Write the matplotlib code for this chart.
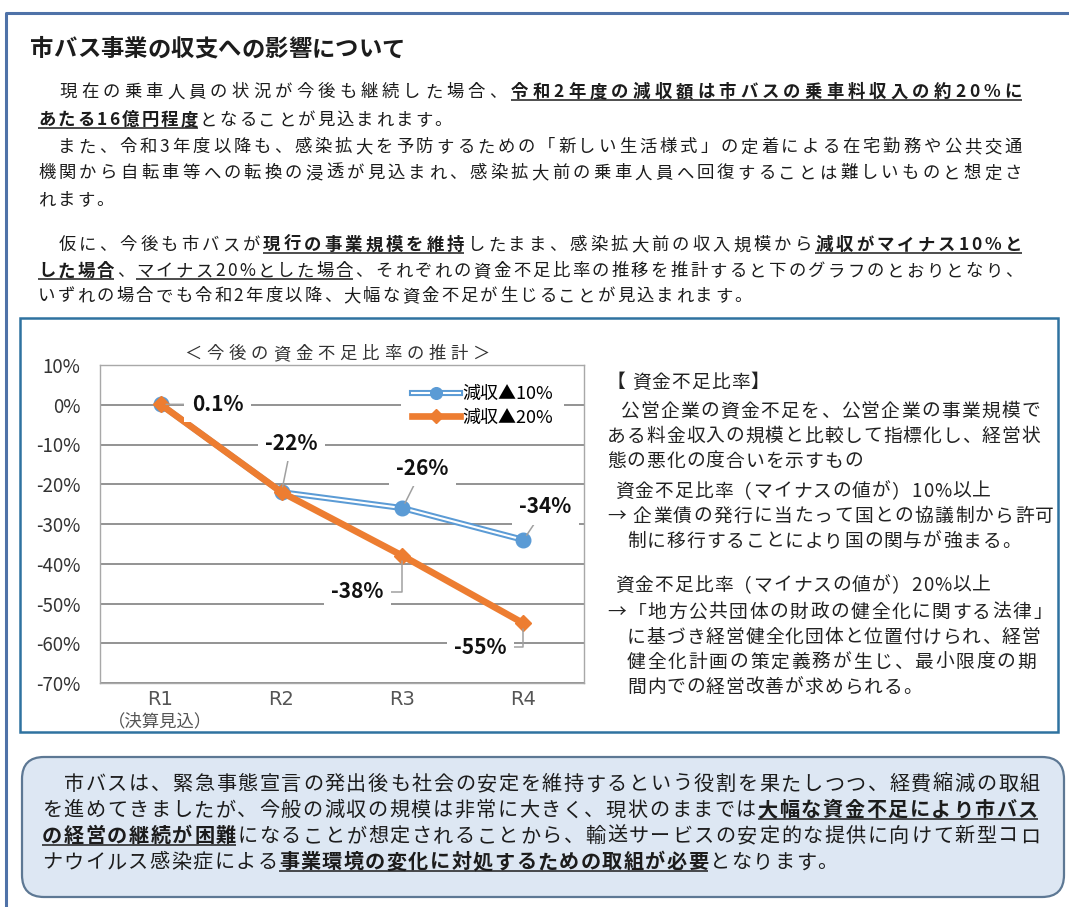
import matplotlib
matplotlib.use("Agg")
import numpy as np
import matplotlib.pyplot as plt
from matplotlib.patches import Rectangle, FancyBboxPatch
from matplotlib.legend_handler import HandlerTuple
from matplotlib.ticker import FuncFormatter
from matplotlib.font_manager import FontProperties, findfont, get_font
from matplotlib import ft2font

# ---------------- data ----------------
categories = ["R1", "R2", "R3", "R4"]
first_note = "（決算見込）"
series_names = ["減収▲10%", "減収▲20%"]
ratio_minus10 = [0.001, -0.22, -0.26, -0.34]
ratio_minus20 = [0.001, -0.22, -0.38, -0.55]
y_ticks = [0.1, 0.0, -0.1, -0.2, -0.3, -0.4, -0.5, -0.6, -0.7]
chart_title = "＜今後の資金不足比率の推計＞"
page_title = "市バス事業の収支への影響について"

# ---------------- look ----------------
FAM = ["Noto Sans CJK JP", "DejaVu Sans"]
plt.rcParams["font.family"] = FAM
plt.rcParams["axes.unicode_minus"] = False

BLUE = "#5b9bd5"
ORANGE = "#ed7d31"
INK = "#1c1c1c"

W, H = 1069, 907
fig = plt.figure(figsize=(W / 100, H / 100), dpi=100)
fig.patch.set_facecolor("white")

# page canvas in pixel units (y grows downward)
page = fig.add_axes([0, 0, 1, 1])
page.set_xlim(0, W)
page.set_ylim(H, 0)
page.axis("off")

try:
    NOHINT = ft2font.LoadFlags.NO_HINTING
except AttributeError:
    NOHINT = ft2font.LOAD_NO_HINTING

_font_paths = {}


def advance(ch, size, weight):
    if weight not in _font_paths:
        _font_paths[weight] = findfont(FontProperties(family="Noto Sans CJK JP",
                                                      weight=weight))
    font = get_font(_font_paths[weight])
    font.set_size(size, 100)
    g = font.load_char(ord(ch), flags=NOHINT)
    return g.linearHoriAdvance / 65536.0


STYLES = {"n": ("normal", False), "b": ("bold", False),
          "u": ("normal", True), "bu": ("bold", True)}


def draw_line(x0, yc, segs, size, x1=None, track=0.0, color=INK):
    """Draw one line of mixed-style text; spread it to x1 when given."""
    chars = []
    for txt, st in segs:
        weight, under = STYLES[st]
        for ch in txt:
            chars.append((ch, weight, under))
    advs = [advance(ch, size, w) for ch, w, _ in chars]
    n = len(chars)
    gap = (x1 - x0 - sum(advs)) / (n - 1) if (x1 is not None and n > 1) else track
    px = size * 100 / 72
    base = yc + 0.36 * px
    x = x0
    run = None
    runs = []
    for (ch, weight, under), adv in zip(chars, advs):
        if not ch.isspace():
            page.text(x, base, ch, fontsize=size, fontweight=weight,
                      color=color, ha="left", va="baseline", family=FAM)
        if under:
            if run is None:
                run = [x, x + adv]
            else:
                run[1] = x + adv
        elif run is not None:
            runs.append(run)
            run = None
        x += adv + gap
    if run is not None:
        runs.append(run)
    for a, b in runs:
        page.plot([a, b], [base + 0.13 * px] * 2, color=color, lw=1.1,
                  solid_capstyle="butt")


# ---------------- page frame ----------------
page.plot([6, 6, W], [H, 13, 13], color="#4f72a8", lw=2.2, solid_capstyle="butt")

# title
draw_line(30, 48, [(page_title, "b")], 16.8, x1=405)

# introductory paragraph
BODY = 12.5
body_lines = [
    (91, [("　現在の乗車人員の状況が今後も継続した場合、", "n"),
          ("令和2年度の減収額は市バスの乗車料収入の約20%に", "bu")], True),
    (119, [("あたる16億円程度", "bu"), ("となることが見込まれます。", "n")], False),
    (146, [("　また、令和3年度以降も、感染拡大を予防するための「新しい生活様式」の定着による在宅勤務や公共交通", "n")], True),
    (172, [("機関から自転車等への転換の浸透が見込まれ、感染拡大前の乗車人員へ回復することは難しいものと想定さ", "n")], True),
    (199, [("れます。", "n")], False),
    (244, [("　仮に、今後も市バスが", "n"), ("現行の事業規模を維持", "bu"),
           ("したまま、感染拡大前の収入規模から", "n"), ("減収がマイナス10%と", "bu")], True),
    (270, [("した場合", "bu"), ("、", "n"), ("マイナス20%とした場合", "u"),
           ("、それぞれの資金不足比率の推移を推計すると下のグラフのとおりとなり、", "n")], True),
    (295, [("いずれの場合でも令和2年度以降、大幅な資金不足が生じることが見込まれます。", "n")], False),
]
for y, segs, just in body_lines:
    draw_line(38, y, segs, BODY, x1=1022 if just else None, track=2.2)

# chart panel frame
page.add_patch(Rectangle((20, 318), 1038, 414, fill=False, ec="#2f72a0", lw=1.8))

# chart heading
draw_line(184, 353, [(chart_title, "n")], 12.5, x1=490, color="#333333")

# explanation beside the chart
SIDE = 13.5
side_lines = [
    (607, 381, "【 資金不足比率】", None),
    (620, 410, "公営企業の資金不足を、公営企業の事業規模で", 1040),
    (607, 435, "ある料金収入の規模と比較して指標化し、経営状", 1040),
    (607, 460, "態の悪化の度合いを示すもの", None),
    (615, 490, "資金不足比率（マイナスの値が）10%以上", None),
    (607, 515, "→ 企業債の発行に当たって国との協議制から許可", 1054),
    (627, 540, "制に移行することにより国の関与が強まる。", None),
    (615, 584, "資金不足比率（マイナスの値が）20%以上", None),
    (607, 611, "→「地方公共団体の財政の健全化に関する法律」", 1052),
    (627, 636, "に基づき経営健全化団体と位置付けられ、経営", 1040),
    (627, 661, "健全化計画の策定義務が生じ、最小限度の期", 1036),
    (627, 686, "間内での経営改善が求められる。", None),
]
for x0, y, txt, x1 in side_lines:
    draw_line(x0, y, [(txt, "n")], SIDE, x1=x1, track=1.0, color="#222222")

# closing note box
page.add_patch(FancyBboxPatch((22, 757), 1042, 140,
                              boxstyle="round,pad=0,rounding_size=22",
                              fc="#dde7f3", ec="#5d7894", lw=1.6))
NOTE = 14.5
note_lines = [
    (783, [("　市バスは、緊急事態宣言の発出後も社会の安定を維持するという役割を果たしつつ、経費縮減の取組", "n")], 1040),
    (809, [("を進めてきましたが、今般の減収の規模は非常に大きく、現状のままでは", "n"),
           ("大幅な資金不足により市バス", "bu")], 1038),
    (835, [("の経営の継続が困難", "bu"),
           ("になることが想定されることから、輸送サービスの安定的な提供に向けて新型コロ", "n")], 1040),
    (861, [("ナウイルス感染症による", "n"), ("事業環境の変化に対処するための取組が必要", "bu"),
           ("となります。", "n")], None),
]
for y, segs, x1 in note_lines:
    draw_line(42, y, segs, NOTE, x1=x1, track=1.4)

# ---------------- line chart ----------------
ax = fig.add_axes([100 / W, (H - 683) / H, 484 / W, 318 / H])
ax.set_facecolor("white")
x = np.arange(len(categories))

ax.set_xlim(-0.5, len(categories) - 0.5)
ax.set_ylim(min(y_ticks), max(y_ticks))
ax.set_yticks(y_ticks)
ax.yaxis.set_major_formatter(FuncFormatter(lambda v, _: f"{int(round(v * 100))}%"))
ax.set_xticks(x)
ax.set_xticklabels(categories, family="DejaVu Sans", fontsize=14, color="#555555")
ax.tick_params(axis="x", length=0, pad=5)
ax.tick_params(axis="y", length=0, pad=14, labelsize=13.5, labelcolor="#333333")
ax.yaxis.grid(True, color="#8a8a8a", lw=1.3)
ax.set_axisbelow(True)
for sp in ax.spines.values():
    sp.set_color("#a8a8a8")
    sp.set_linewidth(1.0)

ax.text(0, -0.12, first_note, transform=ax.get_xaxis_transform(),
        ha="center", va="center", fontsize=12.5, color="#555555")

# 10% scenario: double-stroke blue line with round markers
b_outer, = ax.plot(x, ratio_minus10, color=BLUE, lw=4.4, zorder=3)
b_inner, = ax.plot(x, ratio_minus10, color="white", lw=1.5, zorder=3.1)
b_mark, = ax.plot(x, ratio_minus10, ls="none", marker="o", ms=10.5,
                  color=BLUE, zorder=3.2)
# 20% scenario: solid orange line with diamonds
o_line, = ax.plot(x, ratio_minus20, color=ORANGE, lw=4.8, marker="D", ms=8.5,
                  zorder=4)

ax.legend([(b_outer, b_inner, b_mark), o_line], series_names,
          handler_map={tuple: HandlerTuple(ndivide=1)},
          loc="center", bbox_to_anchor=(0.79, 0.871), fontsize=13,
          handlelength=2.7, handletextpad=0.1, labelspacing=0.3,
          frameon=True, facecolor="white", edgecolor="none", framealpha=1,
          fancybox=False, borderpad=0.6, markerscale=0.8)


def pct(v):
    return f"{v * 100:.1f}%" if abs(v) < 0.01 else f"{v * 100:.0f}%"


# value labels: (series, index, text offset in pixels, elbow leader)
callouts = [
    (ratio_minus20, 0, (57, 0), False),
    (ratio_minus20, 1, (10, 49), False),
    (ratio_minus10, 2, (20, 40), False),
    (ratio_minus10, 3, (22, 33), False),
    (ratio_minus20, 2, (-45, -36), True),
    (ratio_minus20, 3, (-43, -24), True),
]
for series, i, off, elbow in callouts:
    conn = "angle,angleA=0,angleB=90,rad=0" if elbow else "arc3"
    ax.annotate(pct(series[i]), xy=(x[i], series[i]), xytext=off,
                textcoords="offset pixels", ha="center", va="center",
                fontsize=15, fontweight="bold", color="#111111", zorder=6,
                bbox=dict(boxstyle="square,pad=0.35", fc="white", ec="none"),
                arrowprops=dict(arrowstyle="-", color="#a0a0a0", lw=1.1,
                                shrinkA=0, shrinkB=4, connectionstyle=conn),
                annotation_clip=False)

fig.savefig("out.png", dpi=100, facecolor="white")
